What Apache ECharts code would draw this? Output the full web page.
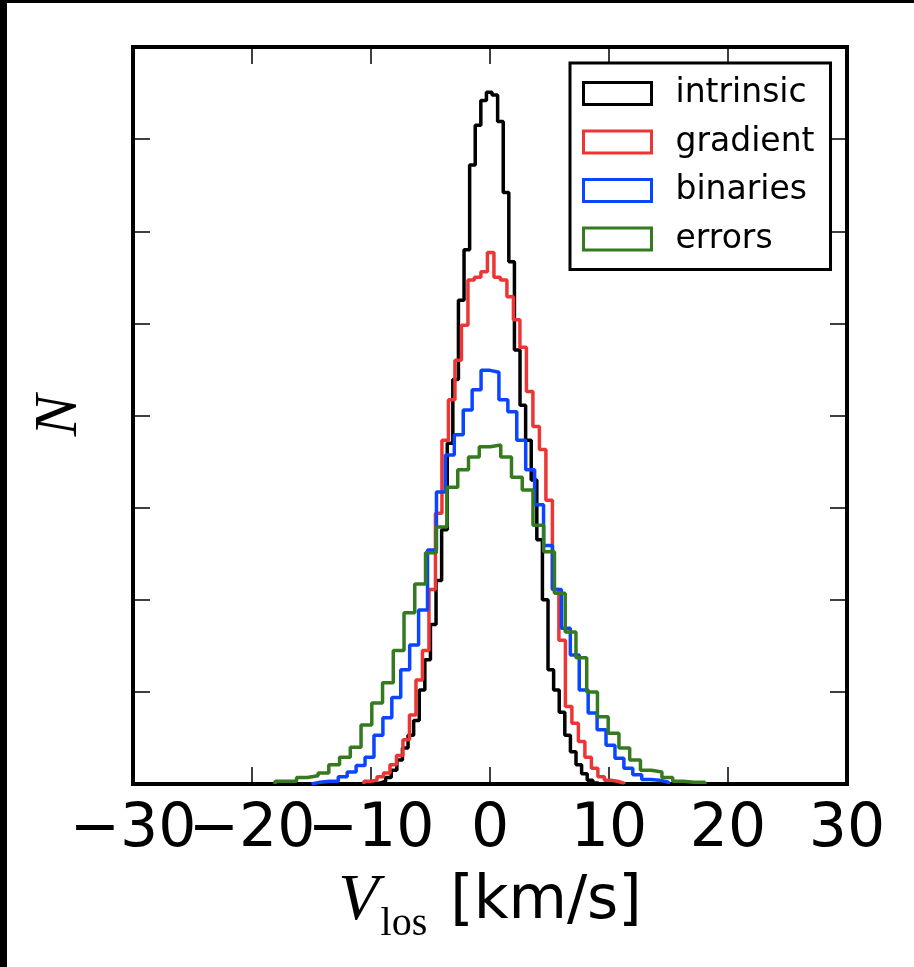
<!DOCTYPE html>
<html><head><meta charset="utf-8">
<script src="https://cdn.jsdelivr.net/npm/echarts@6/dist/echarts.min.js"></script>
<style>html,body{margin:0;padding:0;background:#fff}#c{width:914px;height:967px}</style>
</head><body><div id="c"></div>
<script>
// ---- data ----
const seriesNames = ['intrinsic', 'gradient', 'binaries', 'errors'];
const seriesColors = ['#000000', '#ee3535', '#0a46ff', '#357a1f'];
const xTicks = [-30, -20, -10, 0, 10, 20, 30];

// bin ranges (km/s) and counts per bin (40 bins each)
const intrinsicRange = [-9.71, 9.11];
const intrinsicCounts = [1,3,7,15,26,39,53,69,102,135,173,221,276,370,439,525,580,672,715,742,751,748,719,642,567,471,411,373,330,265,200,124,102,78,53,35,21,11,4,1];

const gradientRange = [-10.59, 11.25];
const gradientCounts = [3,4,8,12,21,31,48,75,113,145,211,294,373,417,460,498,547,550,556,577,550,547,529,504,474,426,388,363,308,211,156,84,66,46,29,17,8,4,3,1];

const binariesRange = [-15.0, 15.0];
const binariesCounts = [2,3,3,8,13,20,29,53,72,94,124,151,189,254,317,357,379,406,428,449,447,417,404,373,341,303,259,211,169,140,102,77,59,42,28,17,10,5,4,2];

const errorsRange = [-18.06, 18.06];
const errorsCounts = [3,3,7,9,12,21,29,40,64,88,110,145,186,217,251,279,322,341,355,366,368,355,333,319,281,252,207,165,137,100,73,55,39,26,15,13,7,3,2,2];

const ranges = [intrinsicRange, gradientRange, binariesRange, errorsRange];
const counts = [intrinsicCounts, gradientCounts, binariesCounts, errorsCounts];

// step outline of a histogram: [left edge of each bin, count]
function histLine(range, c) {
  const n = c.length, w = (range[1] - range[0]) / n;
  const pts = [[range[0], 0]];
  for (let i = 0; i < n; i++) pts.push([range[0] + i * w, c[i]]);
  pts.push([range[1], 0]);
  return pts;
}

const chart = echarts.init(document.getElementById('c'), null, {renderer: 'canvas'});

const tickCommon = {inside: true, length: 17, lineStyle: {color: '#000', width: 1.5}};
const labelCommon = {fontSize: 60, fontFamily: 'DejaVu Sans', color: '#000', margin: 16, hideOverlap: false,
  formatter: v => String(v).replace('-', '\u2212')};
const xMin = xTicks[0], xMax = xTicks[xTicks.length - 1];

function xAx(pos, showLabel) {
  const a = {
    type: 'value', min: xMin, max: xMax, interval: 10,
    position: pos, axisLine: {show: false, onZero: false}, axisTick: tickCommon, splitLine: {show: false},
    axisLabel: Object.assign({show: showLabel, showMinLabel: false, showMaxLabel: true}, labelCommon)
  };
  if (showLabel) {
    a.name = '{v|V}{s|los}{u| [km/s]}';
    a.nameLocation = 'middle';
    a.nameGap = 76;
    a.nameTextStyle = {
      fontSize: 60, fontFamily: 'DejaVu Sans', color: '#000',
      rich: {
        v: {fontFamily: 'Liberation Serif', fontStyle: 'italic', fontSize: 66, color: '#000', lineHeight: 84, verticalAlign: 'middle'},
        s: {fontFamily: 'Liberation Serif', fontSize: 40, color: '#000', verticalAlign: 'bottom', lineHeight: 46, padding: [0, 4, 0, 2]},
        u: {fontFamily: 'DejaVu Sans', fontSize: 60, color: '#000', lineHeight: 84, verticalAlign: 'middle'}
      }
    };
  }
  return a;
}
// extra bottom axis carrying only the leftmost tick label (the main axis drops it when labels touch)
const xMinLabelAxis = {
  type: 'value', min: xMin, max: xMax, interval: xMax - xMin, position: 'bottom',
  axisLine: {show: false, onZero: false}, axisTick: {show: false}, splitLine: {show: false},
  axisLabel: Object.assign({showMinLabel: true, showMaxLabel: false}, labelCommon)
};
function yAx(pos, showName) {
  const a = {
    type: 'value', min: 0, max: 800, interval: 100, position: pos,
    axisLine: {show: false, onZero: false}, axisTick: tickCommon, splitLine: {show: false}, axisLabel: {show: false}
  };
  if (showName) {
    a.name = 'N';
    a.nameLocation = 'middle';
    a.nameGap = 42;
    a.nameTextStyle = {fontFamily: 'Liberation Serif', fontStyle: 'italic', fontSize: 62, color: '#000'};
  }
  return a;
}

chart.setOption({
  animation: false,
  backgroundColor: '#fff',
  grid: {left: 133, right: 67, top: 47, bottom: 183, show: true, borderColor: '#000', borderWidth: 4, backgroundColor: 'transparent'},
  xAxis: [xAx('bottom', true), xAx('top', false), xMinLabelAxis],
  yAxis: [yAx('left', true), yAx('right', false)],
  legend: {
    orient: 'vertical', left: 570, top: 63,
    padding: [14, 16, 14, 12],
    itemWidth: 68, itemHeight: 22, itemGap: 15.5,
    borderColor: '#000', borderWidth: 3, backgroundColor: '#fff',
    textStyle: {fontSize: 33, fontFamily: 'DejaVu Sans', color: '#000', lineHeight: 33, padding: [0, 0, 0, 19]},
    data: seriesNames.map((n, i) => ({name: n, icon: 'rect', itemStyle: {color: '#fff', borderColor: seriesColors[i], borderWidth: 3}}))
  },
  graphic: [
    {type: 'rect', shape: {x: 0, y: 0, width: 914, height: 3}, style: {fill: '#000'}, z: 100},
    {type: 'rect', shape: {x: 0, y: 0, width: 7, height: 967}, style: {fill: '#000'}, z: 100}
  ],
  series: seriesNames.map((n, i) => ({
    name: n, type: 'line', step: 'end', xAxisIndex: 0, yAxisIndex: 0,
    showSymbol: false, symbol: 'none',
    lineStyle: {color: seriesColors[i], width: 3.5},
    itemStyle: {color: seriesColors[i]},
    data: histLine(ranges[i], counts[i])
  }))
});
</script>
</body></html>
